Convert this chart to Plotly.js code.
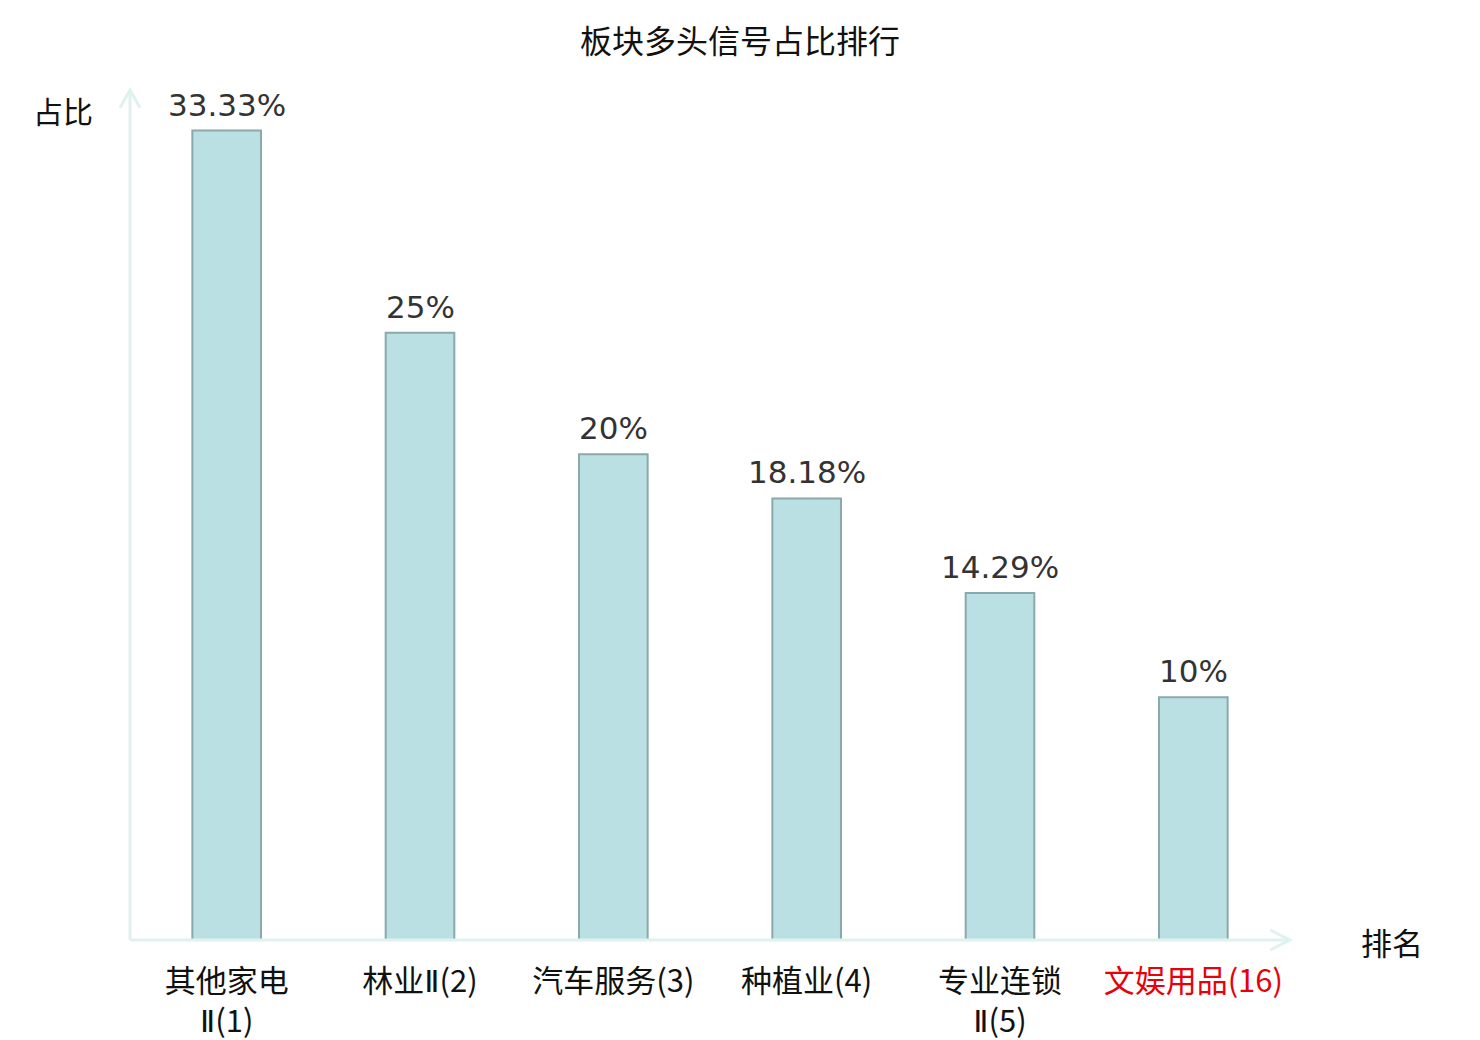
<!DOCTYPE html>
<html>
<head>
<meta charset="utf-8">
<script src="https://cdn.plot.ly/plotly-3.0.1.min.js"></script>
<style>
  html, body { margin: 0; padding: 0; background: #fff; }
  #chart { width: 1480px; height: 1040px; }
</style>
</head>
<body>
<div id="chart"></div>
<script>
const categories = ['其他家电Ⅱ(1)', '林业Ⅱ(2)', '汽车服务(3)', '种植业(4)', '专业连锁Ⅱ(5)', '文娱用品(16)'];
const roman = '<span style="font-family:DejaVu Sans">Ⅱ</span>';
const tickLabels = ['其他家电<br>' + roman + '(1)', '林业' + roman + '(2)', '汽车服务(3)', '种植业(4)',
  '专业连锁<br>' + roman + '(5)', '<span style="color:#e8000b">文娱用品(16)</span>'];
const values = [33.33, 25, 20, 18.18, 14.29, 10];
const valueLabels = ['33.33%', '25%', '20%', '18.18%', '14.29%', '10%'];

const AXIS_COLOR = '#dff2ef';
const CJK = '"Noto Sans CJK SC", "Noto Sans", sans-serif';

const barTrace = {
  x: categories,
  y: values,
  type: 'bar',
  width: 0.355,
  marker: {
    color: '#bbe0e3',
    line: { color: '#8aa9aa', width: 2 }
  },
  hoverinfo: 'none'
};

const valueNotes = categories.map((c, i) => ({
  x: c,
  y: values[i],
  xref: 'x',
  yref: 'y',
  text: valueLabels[i],
  showarrow: false,
  yanchor: 'bottom',
  yshift: 6,
  font: { family: 'DejaVu Sans, sans-serif', size: 31, color: '#333333' }
}));

const axisNotes = [
  {
    x: -0.058, y: 0.976, xref: 'paper', yref: 'paper',
    text: '占比', showarrow: false, xanchor: 'center', yanchor: 'middle',
    font: { family: CJK, size: 30, color: '#111111' }
  },
  {
    x: 1.088, y: -0.002, xref: 'paper', yref: 'paper',
    text: '排名', showarrow: false, xanchor: 'center', yanchor: 'middle',
    font: { family: CJK, size: 31, color: '#111111' }
  }
];

const lineStyle = { color: AXIS_COLOR, width: 3 };
const axisShapes = [
  { type: 'line', xref: 'paper', yref: 'paper', x0: 0, y0: 0, x1: 1, y1: 0, line: lineStyle },
  { type: 'line', xref: 'paper', yref: 'paper', x0: 0, y0: 0, x1: 0, y1: 1, line: lineStyle },
  { type: 'path', xref: 'paper', yref: 'paper',
    path: 'M 0.983 0.0118 L 1 0 L 0.983 -0.0118', line: lineStyle },
  { type: 'path', xref: 'paper', yref: 'paper',
    path: 'M -0.0086 0.979 L 0 1 L 0.0086 0.979', line: lineStyle }
];

const layout = {
  width: 1480,
  height: 1040,
  paper_bgcolor: '#ffffff',
  plot_bgcolor: '#ffffff',
  showlegend: false,
  margin: { l: 130, r: 190, t: 90, b: 100 },
  title: {
    text: '板块多头信号占比排行',
    x: 0.5,
    xanchor: 'center',
    y: 0.96,
    yanchor: 'middle',
    font: { family: CJK, size: 32, color: '#111111' }
  },
  xaxis: {
    type: 'category',
    tickvals: categories,
    ticktext: tickLabels,
    showline: false,
    showgrid: false,
    zeroline: false,
    ticks: '',
    ticklabelstandoff: 20,
    tickfont: { family: CJK, size: 31, color: '#111111' },
    range: [-0.5, 5.5]
  },
  yaxis: {
    range: [0, 35],
    showline: false,
    showgrid: false,
    zeroline: false,
    showticklabels: false,
    ticks: ''
  },
  shapes: axisShapes,
  annotations: valueNotes.concat(axisNotes)
};

Plotly.newPlot('chart', [barTrace], layout, { displayModeBar: false, staticPlot: true });
</script>
</body>
</html>
